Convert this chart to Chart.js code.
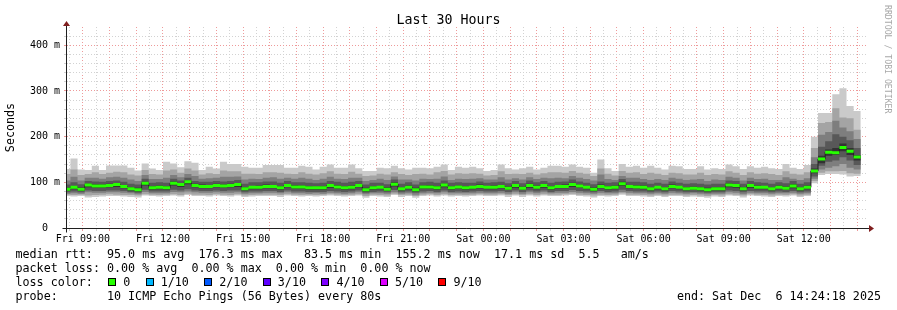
<!DOCTYPE html>
<html>
<head>
<meta charset="utf-8">
<script src="https://cdn.jsdelivr.net/npm/chart.js@4.4.1/dist/chart.umd.min.js"></script>
<style>
  body { margin: 0; background: #fff; }
  #wrap { position: relative; width: 897px; height: 310px; font-family: 'DejaVu Sans Mono', monospace; color: #000; }
  #graph { position: absolute; left: 0; top: 0; }
  #title { position: absolute; left: 0; top: 12px; width: 897px; text-align: center; font-size: 13.3px; line-height: 16px; }
  #credit { position: absolute; left: 883px; top: 5px; writing-mode: vertical-rl; font-size: 8.2px; line-height: 9px; color: #a8a8a8; }
  #legend { position: absolute; left: 15.5px; top: 247px; font-size: 11.7px; line-height: 14px; white-space: pre; }
  .row { height: 14px; display: flex; align-items: center; }
  .box { display: inline-block; width: 6px; height: 6px; border: 1px solid #000; margin-left: 15.4px; margin-right: 7px; }
  #end { position: absolute; right: 16px; top: 289px; font-size: 11.7px; line-height: 14px; white-space: pre; }
</style>
</head>
<body>
<div id="wrap">
  <canvas id="graph" width="897" height="310"></canvas>
  <div id="title">Last 30 Hours</div>
  <div id="credit">RRDTOOL / TOBI OETIKER</div>
  <div id="legend"></div>
  <div id="end">end: Sat Dec  6 14:24:18 2025</div>
</div>
<script>
// time axis in hours since Fri 00:00, 30 hour window ending Sat 14:24:18
const startHour = 8 + 24 / 60 + 18 / 3600;
const endHour = startHour + 30;
const firstStepMin = 8 * 60 + 32;   // Fri 08:32, steps of 16 min
const stepMin = 16;

const xTickHours = [9, 12, 15, 18, 21, 24, 27, 30, 33, 36];
const xTickLabels = ['Fri 09:00', 'Fri 12:00', 'Fri 15:00', 'Fri 18:00', 'Fri 21:00',
  'Sat 00:00', 'Sat 03:00', 'Sat 06:00', 'Sat 09:00', 'Sat 12:00'];
const yTickValues = [0, 100, 200, 300, 400];
const yTickLabels = ['0  ', '100 m', '200 m', '300 m', '400 m'];

// median rtt in ms, one value per 16 min step
const median = [
  85,89,85,94,92,92,93,95,91,86,84,98,88,89,88,98,95,101,93,91,91,93,92,93,95,86,89,89,91,
  91,88,93,90,90,88,88,88,93,90,88,89,93,83.5,88,89,85,96,86,89,84,90,90,88,94,88,90,88,
  89,91,89,89,91,87,93,87,93,89,93,88,91,91,95,92,89,85,91,88,89,97,91,90,89,86,89,86,
  91,89,86,87,86,84,86,86,94,93,86,93,89,89,86,89,87,92,86,89,
  125,151,166,165,176.3,168,155.2];

// sorted pings (smoke), ms
const ping1 = [
  70,69,70,67,68,69,70,70,69,68,67,71,70,69,70,71,69,72,70,70,69,71,70,69,71,68,69,70,70,
  70,68,71,70,69,70,69,70,71,70,69,70,71,66,70,69,68,72,68,70,66,70,71,69,71,69,70,69,
  70,71,70,70,71,68,71,68,71,69,71,70,70,71,72,70,69,67,70,69,70,73,70,70,69,68,70,68,
  70,70,68,69,68,66,69,68,71,70,67,71,70,69,68,70,69,71,68,70,
  98,116,118,118,117,113,114];
const ping2 = [
  73,72,73,71,72,73,74,73,72,72,71,74,73,72,73,74,72,75,73,73,72,74,73,72,74,71,72,73,73,
  73,72,74,73,72,73,72,73,74,73,72,73,74,70,73,72,71,75,72,73,70,73,74,72,74,72,73,72,
  73,74,73,73,74,72,74,72,74,72,74,73,73,74,75,73,72,71,73,72,73,76,73,73,72,71,73,71,
  73,73,71,72,71,70,72,71,74,73,71,74,73,72,71,73,72,74,71,73,
  103,121,124,124,125,120,119];
const ping3 = [
  75,76,75,78,77,77,78,78,77,76,74,79,76,76,76,79,78,80,78,77,77,78,77,77,78,75,76,76,77,
  77,76,78,76,76,75,76,75,77,76,75,76,78,74,76,76,75,78,75,76,73,76,77,76,78,76,76,76,
  76,77,76,76,77,75,78,75,78,76,78,76,77,77,79,77,76,75,77,76,76,79,77,76,76,75,76,75,
  77,76,75,76,75,74,75,75,78,77,74,77,76,76,75,76,76,77,75,76,
  108,128,132,135,140,132,128];
const ping4 = [
  78,80,78,82,81,81,82,82,81,79,77,84,80,80,80,84,82,85,82,81,81,82,81,82,82,78,80,80,81,
  81,79,82,80,80,79,79,79,81,80,79,80,82,77,79,80,78,83,78,80,77,80,81,79,82,79,80,79,
  80,81,80,80,81,79,82,79,82,80,82,79,81,81,83,81,80,78,81,79,80,84,81,80,80,78,80,78,
  81,80,78,79,78,77,78,78,82,81,78,81,80,80,78,80,79,81,78,80,
  113,136,145,148,155,148,138];
const ping5 = [
  81,85,81,89,88,88,89,90,87,82,80,93,84,85,84,93,90,96,89,87,87,89,88,89,90,82,85,85,87,
  87,84,89,86,86,84,84,84,88,86,84,85,89,80,84,85,81,91,82,85,80,86,86,84,89,84,86,84,
  85,87,85,85,87,83,88,83,88,85,88,84,87,87,90,88,85,81,87,84,85,92,87,86,85,82,85,82,
  87,85,82,83,82,80,82,82,89,88,82,88,85,85,82,85,83,87,82,85,
  120,142,158,160,168,160,148];
const ping6 = [
  88,92,89,97,96,95,97,98,94,90,88,101,92,93,92,102,98,104,97,95,94,97,95,97,98,90,92,93,95,
  94,92,96,94,93,92,91,92,96,94,92,93,96,88,92,92,89,100,90,93,88,93,94,92,97,92,93,92,
  92,95,92,93,94,91,96,91,97,93,96,92,94,95,99,95,92,89,95,92,93,101,94,94,93,90,92,90,
  95,92,90,91,90,88,90,90,98,96,90,96,93,92,90,93,91,96,90,93,
  130,158,172,175,185,175,160];
const ping7 = [
  95,100,96,103,102,101,103,104,101,97,95,108,99,100,99,108,104,110,103,101,101,103,102,103,105,97,100,100,102,
  102,99,103,100,100,99,98,99,103,101,99,101,103,95,99,99,96,106,97,100,95,100,101,99,104,99,100,99,
  99,102,99,100,101,98,103,98,104,100,103,99,101,102,106,102,99,96,102,99,100,107,101,101,100,97,99,97,
  102,99,97,98,97,95,97,97,104,103,97,103,100,99,97,100,98,103,97,100,
  140,178,190,205,200,192,175];
const ping8 = [
  104,112,104,110,110,108,111,112,110,106,103,116,107,107,110,116,111,118,114,108,109,110,112,112,113,106,108,107,110,
  111,108,110,108,110,108,105,108,112,108,107,110,110,103,105,108,105,113,106,106,104,108,107,108,113,105,108,107,
  108,109,106,106,111,106,109,106,111,107,110,109,110,109,114,110,107,104,117,107,105,114,110,110,107,105,107,105,
  110,108,105,106,107,103,106,105,112,110,104,110,107,108,105,105,111,108,105,109,
  155,204,210,235,220,212,195];
const ping9 = [
  118,128,116,118,122,118,121,123,122,117,115,127,118,117,126,128,121,130,126,117,120,118,126,124,124,119,119,118,122,
  122,121,119,118,122,119,117,120,124,119,118,123,119,114,115,119,117,122,118,116,118,119,117,122,125,117,120,119,
  120,119,115,116,124,118,119,118,121,117,120,122,122,121,125,121,119,114,130,119,115,125,121,122,118,121,119,116,
  121,120,117,117,121,116,118,117,124,121,116,122,119,120,118,116,124,119,117,122,
  175,230,232,262,242,240,215];
const ping10 = [
  129,152,128,127,136,127,137,137,137,132,126,141,130,127,145,141,133,146,143,127,134,130,145,140,140,134,132,132,138,
  138,138,132,132,136,134,128,134,139,132,132,139,131,125,125,132,131,136,131,128,132,132,131,134,139,127,134,132,
  134,131,125,127,139,131,128,131,134,128,132,136,136,134,139,134,132,121,150,131,125,140,134,136,132,136,132,128,
  136,135,129,129,135,128,131,129,139,135,129,135,132,134,131,129,140,132,129,138,
  200,252,252,293,306,267,256];

const lossLabels = ['0', '1/10', '2/10', '3/10', '4/10', '5/10', '9/10'];
const lossColors = ['#26ff00', '#00b8ff', '#0059ff', '#5e00ff', '#7e00ff', '#dd00ff', '#ff0000'];

// step boundaries (first step is cut by the window start)
const stepStart = median.map((v, i) => i === 0 ? startHour : (firstStepMin + (i - 1) * stepMin) / 60);
const stepEnd = median.map((v, i) => (firstStepMin + i * stepMin) / 60);

function steps(arr) {
  const pts = arr.map((v, i) => ({ x: stepStart[i], y: v }));
  pts.push({ x: stepEnd[arr.length - 1], y: arr[arr.length - 1] });
  return pts;
}

function edge(arr, order, color, target) {
  return {
    data: steps(arr),
    stepped: true,
    borderWidth: 0,
    borderColor: 'transparent',
    backgroundColor: color || 'transparent',
    pointRadius: 0,
    fill: target === undefined ? false : target,
    order: order
  };
}

const greenPts = [];
median.forEach((v, i) => {
  greenPts.push({ x: stepStart[i], y: v }, { x: stepEnd[i], y: v }, { x: stepEnd[i], y: null });
});

const datasets = [
  edge(ping1, 30),
  edge(ping10, 15, '#cacaca', 0),
  edge(ping2, 30),
  edge(ping9, 14, '#a4a4a4', 2),
  edge(ping3, 30),
  edge(ping8, 13, '#7e7e7e', 4),
  edge(ping4, 30),
  edge(ping7, 12, '#585858', 6),
  edge(ping5, 30),
  edge(ping6, 11, '#323232', 8),
  { data: steps(median), stepped: true, borderWidth: 1, borderColor: '#202020', pointRadius: 0, fill: false, order: 2 },
  { data: greenPts, borderWidth: 3, borderColor: lossColors[0], borderCapStyle: 'butt', pointRadius: 0, fill: false, spanGaps: false, order: 1 }
];

// legend below the graph
const legend = document.getElementById('legend');
const lines = [
  'median rtt:  95.0 ms avg  176.3 ms max   83.5 ms min  155.2 ms now  17.1 ms sd  5.5   am/s',
  'packet loss: 0.00 % avg  0.00 % max  0.00 % min  0.00 % now'
];
lines.forEach(t => {
  const d = document.createElement('div');
  d.className = 'row';
  d.textContent = t;
  legend.appendChild(d);
});
const lossRow = document.createElement('div');
lossRow.className = 'row';
const lossTitle = document.createElement('span');
lossTitle.textContent = 'loss color:';
lossRow.appendChild(lossTitle);
lossLabels.forEach((l, i) => {
  const b = document.createElement('span');
  b.className = 'box';
  b.style.background = lossColors[i];
  lossRow.appendChild(b);
  const s = document.createElement('span');
  s.textContent = l;
  lossRow.appendChild(s);
});
legend.appendChild(lossRow);
const probe = document.createElement('div');
probe.className = 'row';
probe.textContent = 'probe:       10 ICMP Echo Pings (56 Bytes) every 80s';
legend.appendChild(probe);

const halfHours = [];
for (let h = Math.ceil(startHour * 2) / 2; h <= endHour; h += 0.5) halfHours.push(h);
const yGrid = [];
for (let v = 0; v <= 420; v += 20) yGrid.push(v);

const minorGrid = '#d2d2d2';
const majorGrid = '#ee9a9a';
const isMajorX = v => Math.abs(v - Math.round(v)) < 1e-6;
const isMajorY = v => Math.abs(v % 100) < 1e-6;
const tickFont = { family: 'DejaVu Sans Mono', size: 10 };

const rrdAxes = {
  id: 'rrdAxes',
  afterDraw(chart) {
    const { ctx, chartArea: a } = chart;
    const y0 = Math.round(a.bottom) + 0.5;
    const x0 = Math.round(a.left) - 0.5;
    ctx.save();
    ctx.strokeStyle = '#1f1f1f';
    ctx.lineWidth = 1;
    ctx.beginPath();
    ctx.moveTo(x0 - 4, y0);
    ctx.lineTo(a.right + 2, y0);
    ctx.moveTo(x0, y0 + 4);
    ctx.lineTo(x0, a.top - 3);
    ctx.stroke();
    ctx.fillStyle = 'rgb(128,31,31)';
    ctx.beginPath();
    ctx.moveTo(a.right + 1, y0 - 3.5);
    ctx.lineTo(a.right + 6, y0);
    ctx.lineTo(a.right + 1, y0 + 3.5);
    ctx.closePath();
    ctx.fill();
    ctx.beginPath();
    ctx.moveTo(x0 - 3.5, a.top - 1);
    ctx.lineTo(x0, a.top - 6);
    ctx.lineTo(x0 + 3.5, a.top - 1);
    ctx.closePath();
    ctx.fill();
    ctx.restore();
  }
};

new Chart(document.getElementById('graph'), {
  type: 'line',
  data: { datasets: datasets },
  options: {
    responsive: false,
    animation: false,
    devicePixelRatio: 1,
    layout: { padding: { top: 27, right: 29, left: 0, bottom: 0 } },
    plugins: { legend: { display: false }, tooltip: { enabled: false }, title: { display: false } },
    elements: { point: { radius: 0 }, line: { tension: 0 } },
    scales: {
      x: {
        type: 'linear',
        min: startHour,
        max: endHour,
        afterBuildTicks: s => { s.ticks = halfHours.map(v => ({ value: v })); },
        afterFit: s => { s.height = 82; },
        grid: {
          color: c => (c.tick && isMajorX(c.tick.value)) ? majorGrid : minorGrid,
          tickColor: c => (c.tick && isMajorX(c.tick.value)) ? majorGrid : minorGrid,
          tickLength: 3,
          lineWidth: 1
        },
        border: { display: false, dash: [1, 2] },
        ticks: {
          autoSkip: false,
          maxRotation: 0,
          padding: 2,
          color: '#000',
          font: tickFont,
          callback: v => {
            const i = xTickHours.indexOf(v);
            return i >= 0 ? xTickLabels[i] : '';
          }
        }
      },
      y: {
        min: 0,
        max: 440,
        afterBuildTicks: s => { s.ticks = yGrid.map(v => ({ value: v })); },
        afterFit: s => { s.width = 67; },
        grid: {
          color: c => (c.tick && isMajorY(c.tick.value)) ? majorGrid : minorGrid,
          tickColor: c => (c.tick && isMajorY(c.tick.value)) ? majorGrid : minorGrid,
          tickLength: 3,
          lineWidth: 1
        },
        border: { display: false, dash: [1, 2] },
        title: {
          display: true,
          text: 'Seconds',
          color: '#000',
          font: { family: 'DejaVu Sans Mono', size: 11.7 },
          padding: { top: 4, bottom: 0 }
        },
        ticks: {
          autoSkip: false,
          padding: 4,
          color: '#000',
          font: tickFont,
          callback: v => {
            const i = yTickValues.indexOf(v);
            return i >= 0 ? yTickLabels[i] : '';
          }
        }
      }
    }
  },
  plugins: [rrdAxes]
});
</script>
</body>
</html>
